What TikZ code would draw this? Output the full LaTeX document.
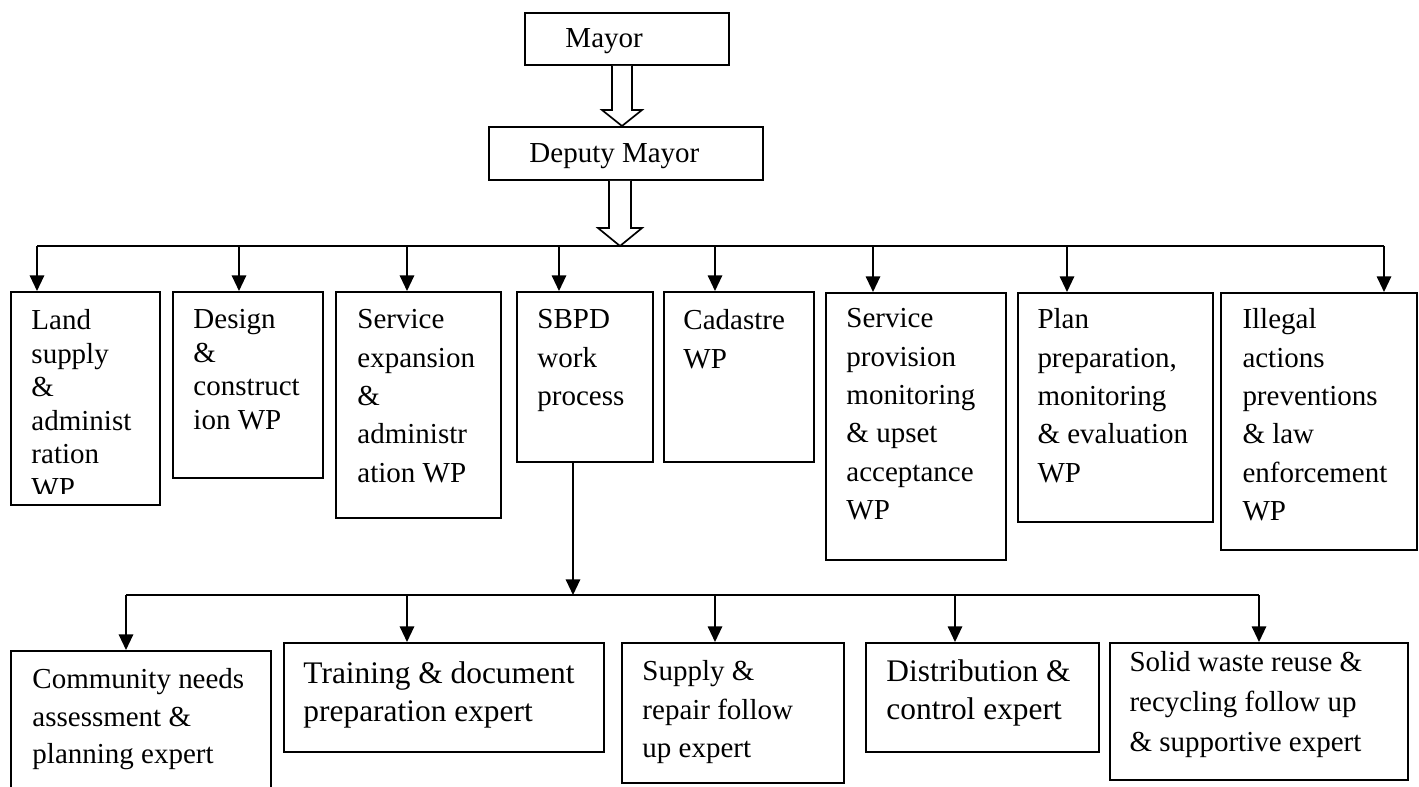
\documentclass[tikz,border=0pt]{standalone}
\usepackage{fontspec}
\setmainfont{Liberation Serif}
\usetikzlibrary{arrows.meta}

\tikzset{
	unit/.style 2 args={draw, line width=0.8pt, inner sep=0pt, anchor=north west,
		minimum width=#1*0.414pt, minimum height=#2*0.414pt},
	txt/.style={anchor=north west, align=left, inner sep=0pt, font=\fontsize{12}{15.9}\selectfont},
	tight/.style={txt, font=\fontsize{12}{13.9}\selectfont},
	big/.style={txt, font=\fontsize{13}{15.8}\selectfont},
	link/.style={line width=0.7pt, -{Triangle[length=6.5pt, width=6pt]}},
	hollow/.style={line width=0.7pt, fill=white}
}

\begin{document}
\begin{tikzpicture}[x=0.414pt, y=-0.414pt]
	\useasboundingbox (0,0) rectangle (1419,787);

	% Мэр и заместитель
	\node[unit={204}{52}] (mayor) at (524,12) {};
	\node[txt] (mayortxt) at (565,28) {Mayor};
	\node[unit={274}{53}] (deputy) at (488,126) {};
	\node[txt] (deputytxt) at (529,143) {Deputy Mayor};

	\coordinate (topbus) at (620,246);
	\draw[hollow] (612,0 |- mayor.south) -- (612,110) -- (602,110) -- (622,0 |- deputy.north) -- (642,110) -- (632,110) -- (632,0 |- mayor.south);
	\draw[hollow] (609,0 |- deputy.south) -- (609,228) -- (598,228) -- (topbus) -- (642,228) -- (631,228) -- (631,0 |- deputy.south);

	% Рабочие процессы
	\node[unit={149}{213}] (land) at (10,291) {};
	\begin{scope}
		\clip (10,291) rectangle (159,493);
		\node[tight] (landtxt) at (31,309) {Land\\supply\\\&\\administ\\ration\\WP};
	\end{scope}
	\node[unit={150}{186}] (design) at (172,291) {};
	\node[tight] (designtxt) at (193,309) {Design\\\&\\construct\\ion WP};
	\node[unit={165}{226}] (servexp) at (335,291) {};
	\node[txt] (servexptxt) at (357,309) {Service\\expansion\\\&\\administr\\ation WP};
	\node[unit={136}{170}] (sbpd) at (516,291) {};
	\node[txt] (sbpdtxt) at (537,309) {SBPD\\work\\process};
	\node[unit={150}{170}] (cadastre) at (663,291) {};
	\node[txt] (cadastretxt) at (683,309) {Cadastre\\WP};
	\node[unit={180}{267}] (servprov) at (825,292) {};
	\node[txt] (servprovtxt) at (846,308) {Service\\provision\\monitoring\\\& upset\\acceptance\\WP};
	\node[unit={195}{229}] (plan) at (1017,292) {};
	\node[txt] (plantxt) at (1037,308) {Plan\\preparation,\\monitoring\\\& evaluation\\WP};
	\node[unit={196}{257}] (illegal) at (1220,292) {};
	\node[txt] (illegaltxt) at (1242,308) {Illegal\\actions\\preventions\\\& law\\enforcement\\WP};

	\draw[line width=0.7pt] (37,0 |- topbus) -- (1384,0 |- topbus);
	\draw[link] (37,246) -- (37,0 |- land.north);
	\draw[link] (239,246) -- (239,0 |- design.north);
	\draw[link] (407,246) -- (407,0 |- servexp.north);
	\draw[link] (559,246) -- (559,0 |- sbpd.north);
	\draw[link] (715,246) -- (715,0 |- cadastre.north);
	\draw[link] (873,246) -- (873,0 |- servprov.north);
	\draw[link] (1067,246) -- (1067,0 |- plan.north);
	\draw[link] (1384,246) -- (1384,0 |- illegal.north);

	% Эксперты
	\coordinate (lowbus) at (573,595);
	\draw[link] (573,0 |- sbpd.south) -- (lowbus);
	\draw[line width=0.7pt] (126,0 |- lowbus) -- (1259,0 |- lowbus);

	\node[unit={260}{160}] (community) at (10,650) {};
	\node[txt, font=\fontsize{12}{15.5}\selectfont] (communitytxt) at (32,668) {Community needs\\assessment \&\\planning expert};
	\node[unit={320}{109}] (training) at (283,642) {};
	\node[big] (trainingtxt) at (303,661) {Training \& document\\preparation expert};
	\node[unit={222}{140}] (supply) at (621,642) {};
	\node[txt] (supplytxt) at (642,660) {Supply \&\\repair follow\\up expert};
	\node[unit={233}{109}] (distribution) at (865,642) {};
	\node[big] (distributiontxt) at (886,659) {Distribution \&\\control expert};
	\node[unit={298}{137}] (solid) at (1109,642) {};
	\node[txt, font=\fontsize{12}{16.5}\selectfont] (solidtxt) at (1129,651) {Solid waste reuse \&\\recycling follow up\\\& supportive expert};

	\draw[link] (126,595) -- (126,0 |- community.north);
	\draw[link] (407,595) -- (407,0 |- training.north);
	\draw[link] (715,595) -- (715,0 |- supply.north);
	\draw[link] (955,595) -- (955,0 |- distribution.north);
	\draw[link] (1259,595) -- (1259,0 |- solid.north);
\end{tikzpicture}
\end{document}
